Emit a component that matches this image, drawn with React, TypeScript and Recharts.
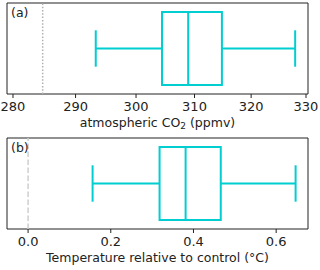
import React from 'react';
import { ComposedChart, XAxis, YAxis, ReferenceLine, ReferenceArea } from 'recharts';

// box stats: whisker low, q1, median, q3, whisker high
const CO2_BOX = [293.3, 304.4, 308.9, 314.8, 328.0];
const CO2_REF = 284.7;
const CO2_TICKS = [280, 290, 300, 310, 320, 330];
const CO2_DOMAIN = [279.06, 330.37];

const TEMP_BOX = [0.156, 0.318, 0.381, 0.466, 0.647];
const TEMP_REF = 0;
const TEMP_TICKS = [0, 0.2, 0.4, 0.6];
const TEMP_DOMAIN = [-0.051, 0.677];

const FONT = '"DejaVu Sans", sans-serif';
const CYAN = '#00CED1';
const INK = '#222';

type PanelProps = {
    stats: number[];
    refX: number;
    refColor: string;
    refDash: string;
    ticks: number[];
    domain: number[];
    scale: 'log' | 'linear';
    fmt: (v: number) => string;
    tag: string;
    title: React.ReactNode;
};

function BoxPanel({ stats, refX, refColor, refDash, ticks, domain, scale, fmt, tag, title }: PanelProps) {
    const [lo, q1, med, q3, hi] = stats;
    const line = { stroke: CYAN, strokeWidth: 2, ifOverflow: 'visible' as const };
    return (
        <div style={{ position: 'relative', width: 320, height: 135 }}>
            <ComposedChart width={320} height={135} data={[{ x: med, y: 0.5 }]} margin={{ top: 3, right: 12, left: 7, bottom: 0 }}>
                <XAxis type="number" dataKey="x" scale={scale} domain={domain} allowDataOverflow ticks={ticks} interval={0}
                    tickFormatter={fmt} height={41} tickSize={4} tickMargin={3.5} axisLine={false}
                    tickLine={{ stroke: INK }} tick={{ fill: INK, fontSize: 13, fontFamily: FONT }} />
                <YAxis type="number" dataKey="y" domain={[0, 1]} hide width={0} />
                <ReferenceLine x={refX} stroke={refColor} strokeDasharray={refDash} strokeWidth={1.5} />
                <ReferenceLine segment={[{ x: lo, y: 0.5 }, { x: q1, y: 0.5 }]} {...line} />
                <ReferenceLine segment={[{ x: q3, y: 0.5 }, { x: hi, y: 0.5 }]} {...line} />
                <ReferenceLine segment={[{ x: lo, y: 0.3 }, { x: lo, y: 0.7 }]} {...line} />
                <ReferenceLine segment={[{ x: hi, y: 0.3 }, { x: hi, y: 0.7 }]} {...line} />
                <ReferenceArea x1={q1} x2={q3} y1={0.1} y2={0.9} fill="none" fillOpacity={0} stroke={CYAN} strokeWidth={2} />
                <ReferenceLine segment={[{ x: med, y: 0.1 }, { x: med, y: 0.9 }]} {...line} />
                <ReferenceArea x1={domain[0]} x2={domain[1]} y1={0} y2={1} fill="none" fillOpacity={0} stroke={INK} strokeWidth={1} />
            </ComposedChart>
            <div style={{ position: 'absolute', left: 11, top: 7, fontFamily: FONT, fontSize: 12.5, lineHeight: '12.5px', color: INK }}>{tag}</div>
            <div style={{ position: 'absolute', left: 7, width: 301, top: 117, textAlign: 'center', fontFamily: FONT, fontSize: 12.5, lineHeight: '12.5px', color: INK, whiteSpace: 'nowrap' }}>{title}</div>
        </div>
    );
}

export default function App() {
    return (
        <div style={{ position: 'absolute', left: 0, top: 0, width: 320, height: 270, background: '#fff' }}>
            <BoxPanel stats={CO2_BOX} refX={CO2_REF} refColor="#b0b0b0" refDash="1.5 1.8" ticks={CO2_TICKS} domain={CO2_DOMAIN}
                scale="log" fmt={(v) => String(v)} tag="(a)"
                title={<span>atmospheric CO<sub style={{ fontSize: 9, verticalAlign: -2, lineHeight: 0 }}>2</sub> (ppmv)</span>} />
            <BoxPanel stats={TEMP_BOX} refX={TEMP_REF} refColor="#cfcfcf" refDash="5.5 2.5" ticks={TEMP_TICKS} domain={TEMP_DOMAIN}
                scale="linear" fmt={(v) => v.toFixed(1)} tag="(b)"
                title="Temperature relative to control (°C)" />
        </div>
    );
}
